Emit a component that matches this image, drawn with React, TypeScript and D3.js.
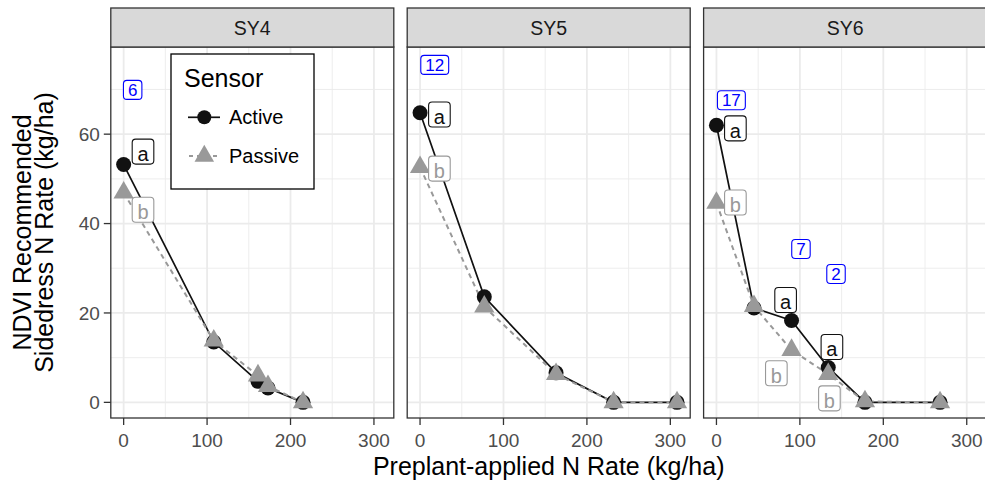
import * as d3 from "d3";

const PANELS = ["SY4", "SY5", "SY6"];

// preplant N rate (kg/ha) and recommended sidedress N (kg/ha) per site-year
const SY4_RATE = [0, 108, 161, 173, 215];
const SY4_ACTIVE = [53.2, 13.5, 4.7, 3.2, 0];
const SY4_PASSIVE = [46.9, 13.8, 6.0, 3.6, 0];

const SY5_RATE = [0, 77, 163, 232, 308];
const SY5_ACTIVE = [64.8, 23.6, 6.6, 0, 0];
const SY5_PASSIVE = [52.6, 21.4, 6.3, 0, 0];

const SY6_RATE = [0, 45, 90, 134, 178, 268];
const SY6_ACTIVE = [62, 21.1, 18.3, 7.8, 0, 0];
const SY6_PASSIVE = [44.6, 21.5, 11.7, 6.3, 0.2, 0];

// text labels: [x, y, text, kind]
const SY4_LABELS: [number, number, string, string][] = [
  [23.2, 56.1, "a", "Active"],
  [23.2, 43.1, "b", "Passive"],
  [10.8, 69.9, "6", "count"],
];
const SY5_LABELS: [number, number, string, string][] = [
  [23.2, 64.4, "a", "Active"],
  [23.2, 52.3, "b", "Passive"],
  [17.6, 75.5, "12", "count"],
];
const SY6_LABELS: [number, number, string, string][] = [
  [22.7, 61.3, "a", "Active"],
  [22.7, 44.7, "b", "Passive"],
  [17.9, 67.6, "17", "count"],
  [82.9, 22.9, "a", "Active"],
  [138.4, 12.4, "a", "Active"],
  [71.8, 6.5, "b", "Passive"],
  [135.4, 0.9, "b", "Passive"],
  [101.3, 34.3, "7", "count"],
  [143.3, 28.7, "2", "count"],
];

const X_TICKS = [0, 100, 200, 300];
const X_MINOR = [50, 150, 250];
const Y_TICKS = [0, 20, 40, 60];
const Y_MINOR = [10, 30, 50, 70];

const PANEL_DATA = [
  { rate: SY4_RATE, active: SY4_ACTIVE, passive: SY4_PASSIVE, labels: SY4_LABELS },
  { rate: SY5_RATE, active: SY5_ACTIVE, passive: SY5_PASSIVE, labels: SY5_LABELS },
  { rate: SY6_RATE, active: SY6_ACTIVE, passive: SY6_PASSIVE, labels: SY6_LABELS },
];

const W = 985;
const H = 485;
const PANEL_LEFT = 110.8;
const PANEL_W = 283;
const PANEL_PITCH = 296.4;
const STRIP_TOP = 8;
const PANEL_TOP = 47;
const PANEL_BOTTOM = 418;

const FONT = "'Liberation Sans', Arial, Helvetica, sans-serif";
const ACTIVE_COL = "#111111";
const PASSIVE_COL = "#999999";
const COUNT_COL = "#0000ff";
const GRID = "#EBEBEB";
const BORDER = "#333333";

const TRI = d3.symbol(d3.symbolTriangle, 178)() as string;
const TRI_KEY = d3.symbol(d3.symbolTriangle, 165)() as string;

const yScale = d3.scaleLinear().domain([-3.5, 79.5]).range([PANEL_BOTTOM, PANEL_TOP]);

function Label({ x, y, text, kind }: { x: number; y: number; text: string; kind: string }) {
  const col = kind === "Active" ? ACTIVE_COL : kind === "Passive" ? PASSIVE_COL : COUNT_COL;
  const isCount = kind === "count";
  const fs = isCount ? 17 : 20;
  const w = text.length * 0.556 * fs + (isCount ? 9 : 10.5);
  const h = isCount ? 19 : 25;
  return (
    <g>
      <rect
        x={x - w / 2}
        y={y - h / 2}
        width={w}
        height={h}
        rx={3.5}
        fill="white"
        stroke={col}
        strokeWidth={1.1}
      />
      <text
        x={x}
        y={y + (isCount ? 6.3 : 9.5)}
        textAnchor="middle"
        fontSize={fs}
        fill={col}
        fontFamily={FONT}
      >
        {text}
      </text>
    </g>
  );
}

function Panel({ index }: { index: number }) {
  const left = PANEL_LEFT + index * PANEL_PITCH;
  const d = PANEL_DATA[index];
  const x = d3.scaleLinear().domain([-15.4, 323.8]).range([left, left + PANEL_W]);
  const line = d3
    .line<number>()
    .x((_, i) => x(d.rate[i]))
    .y((v) => yScale(v));

  return (
    <g>
      <rect x={left} y={PANEL_TOP} width={PANEL_W} height={PANEL_BOTTOM - PANEL_TOP} fill="white" />
      {X_MINOR.map((t) => (
        <line key={"xm" + t} x1={x(t)} x2={x(t)} y1={PANEL_TOP} y2={PANEL_BOTTOM} stroke={GRID} strokeWidth={0.9} />
      ))}
      {Y_MINOR.map((t) => (
        <line key={"ym" + t} x1={left} x2={left + PANEL_W} y1={yScale(t)} y2={yScale(t)} stroke={GRID} strokeWidth={0.9} />
      ))}
      {X_TICKS.map((t) => (
        <line key={"xg" + t} x1={x(t)} x2={x(t)} y1={PANEL_TOP} y2={PANEL_BOTTOM} stroke={GRID} strokeWidth={1.8} />
      ))}
      {Y_TICKS.map((t) => (
        <line key={"yg" + t} x1={left} x2={left + PANEL_W} y1={yScale(t)} y2={yScale(t)} stroke={GRID} strokeWidth={1.8} />
      ))}

      <path d={line(d.active) as string} fill="none" stroke={ACTIVE_COL} strokeWidth={1.7} />
      <path
        d={line(d.passive) as string}
        fill="none"
        stroke={PASSIVE_COL}
        strokeWidth={2}
        strokeDasharray="5,4"
      />
      {d.active.map((v, i) => (
        <circle key={"a" + i} cx={x(d.rate[i])} cy={yScale(v)} r={7.5} fill={ACTIVE_COL} />
      ))}
      {d.passive.map((v, i) => (
        <path key={"p" + i} d={TRI} transform={`translate(${x(d.rate[i])},${yScale(v)})`} fill={PASSIVE_COL} />
      ))}
      {d.labels.map(([lx, ly, text, kind], i) => (
        <Label key={"l" + i} x={x(lx)} y={yScale(ly)} text={text} kind={kind} />
      ))}

      <rect
        x={left}
        y={PANEL_TOP}
        width={PANEL_W}
        height={PANEL_BOTTOM - PANEL_TOP}
        fill="none"
        stroke={BORDER}
        strokeWidth={1.3}
      />
      <rect
        x={left}
        y={STRIP_TOP}
        width={PANEL_W}
        height={PANEL_TOP - STRIP_TOP}
        fill="#D9D9D9"
        stroke={BORDER}
        strokeWidth={1.3}
      />
      <text
        x={left + PANEL_W / 2}
        y={35}
        textAnchor="middle"
        fontSize={19.5}
        fill="#1A1A1A"
        fontFamily={FONT}
      >
        {PANELS[index]}
      </text>

      {X_TICKS.map((t) => (
        <g key={"xt" + t}>
          <line x1={x(t)} x2={x(t)} y1={PANEL_BOTTOM} y2={PANEL_BOTTOM + 7} stroke={BORDER} strokeWidth={1.3} />
          <text x={x(t)} y={446.5} textAnchor="middle" fontSize={19} fill="#4D4D4D" fontFamily={FONT}>
            {t}
          </text>
        </g>
      ))}
      {index === 0 &&
        Y_TICKS.map((t) => (
          <g key={"yt" + t}>
            <line x1={left - 7} x2={left} y1={yScale(t)} y2={yScale(t)} stroke={BORDER} strokeWidth={1.3} />
            <text
              x={left - 11}
              y={yScale(t) + 6.8}
              textAnchor="end"
              fontSize={19}
              fill="#4D4D4D"
              fontFamily={FONT}
            >
              {t}
            </text>
          </g>
        ))}
    </g>
  );
}

function Legend() {
  const lx = 171;
  const ly = 54;
  const keyX = 204.3;
  return (
    <g>
      <rect x={lx} y={ly} width={143} height={135} fill="white" stroke="black" strokeWidth={1.3} />
      <text x={184} y={87} fontSize={25} fontFamily={FONT} fill="black">
        Sensor
      </text>
      <line x1={188} x2={220} y1={117.3} y2={117.3} stroke={ACTIVE_COL} strokeWidth={1.7} />
      <circle cx={keyX} cy={117.3} r={7} fill={ACTIVE_COL} />
      <text x={229} y={124.3} fontSize={20} fontFamily={FONT} fill="black">
        Active
      </text>
      <line
        x1={188}
        x2={220}
        y1={156}
        y2={156}
        stroke={PASSIVE_COL}
        strokeWidth={2}
        strokeDasharray="4,4"
        strokeDashoffset={-1}
      />
      <path d={TRI_KEY} transform={`translate(${keyX},156)`} fill={PASSIVE_COL} />
      <text x={229} y={163.2} fontSize={20} fontFamily={FONT} fill="black">
        Passive
      </text>
    </g>
  );
}

export default function App() {
  const plotCenterX = (PANEL_LEFT + PANEL_LEFT + 2 * PANEL_PITCH + PANEL_W) / 2;
  const plotCenterY = (PANEL_TOP + PANEL_BOTTOM) / 2;
  return (
    <div style={{ position: "absolute", left: 0, top: 0 }}>
      <svg width={W} height={H} style={{ display: "block", background: "white" }}>
        {PANELS.map((p, i) => (
          <Panel key={p} index={i} />
        ))}
        <Legend />
        <text x={plotCenterX} y={475} textAnchor="middle" fontSize={25} fontFamily={FONT} fill="black">
          Preplant-applied N Rate (kg/ha)
        </text>
        <g transform={`translate(0,${plotCenterY}) rotate(-90)`}>
          <text x={0} y={31} textAnchor="middle" fontSize={25} fontFamily={FONT} fill="black">
            NDVI Recommended
          </text>
          <text x={0} y={53} textAnchor="middle" fontSize={25} fontFamily={FONT} fill="black">
            Sidedress N Rate (kg/ha)
          </text>
        </g>
      </svg>
    </div>
  );
}
